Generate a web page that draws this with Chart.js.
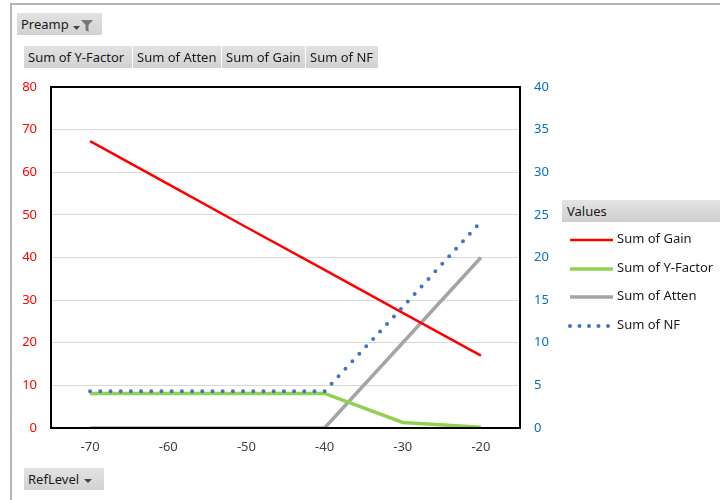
<!DOCTYPE html>
<html>
<head>
<meta charset="utf-8">
<script src="https://cdn.jsdelivr.net/npm/chart.js@4/dist/chart.umd.min.js"></script>
<style>
  html, body { margin: 0; padding: 0; background: #fff; }
  body { width: 720px; height: 500px; position: relative; overflow: hidden;
         font-family: "Noto Sans", "Open Sans", sans-serif; font-size: 13px; color: #1a1a1a; }
  #frame { position: absolute; left: 10px; top: 3px; width: 760px; height: 560px;
           border-left: 2px solid #b4b4b4; border-top: 2px solid #b4b4b4; box-sizing: border-box; }
  #chart { position: absolute; left: 0; top: 0; width: 720px; height: 500px; }
  .btn { position: absolute; height: 22px; line-height: 22px; box-sizing: border-box;
         background: linear-gradient(#e2e2e2, #d2d2d2); padding: 0 4px; white-space: nowrap;
         font-size: 13px; color: #1a1a1a; overflow: hidden; }
  .arrow { display: inline-block; width: 0; height: 0; border-left: 4px solid transparent;
           border-right: 4px solid transparent; border-top: 4px solid #444; vertical-align: middle; margin-left: 5px; }
  #legend { position: absolute; left: 562px; top: 200px; width: 158px; }
  #legend .head { height: 22px; line-height: 22px; padding-left: 5px;
                  background: linear-gradient(#e4e4e4, #cfcfcf); }
  #legend .item { position: absolute; left: 6px; height: 16px; line-height: 16px; white-space: nowrap; }
  #legend .item canvas { vertical-align: middle; margin-right: 3px; }
</style>
</head>
<body>
<div id="frame"></div>
<canvas id="chart" width="720" height="500"></canvas>

<div class="btn" style="left:17px; top:13px; width:85px;">Preamp
  <svg width="22" height="14" style="vertical-align:middle; margin-left:0px" viewBox="0 0 22 14">
    <polygon points="1,7 8,7 4.5,11" fill="#444"/>
    <polygon points="9,1 21,1 16.5,6 16.5,13 13.5,11 13.5,6" fill="#777"/>
  </svg>
</div>
<div class="btn" style="left:24px; top:46px; width:108px;">Sum of Y-Factor</div>
<div class="btn" style="left:133px; top:46px; width:88px;">Sum of Atten</div>
<div class="btn" style="left:222px; top:46px; width:83px;">Sum of Gain</div>
<div class="btn" style="left:306px; top:46px; width:72px;">Sum of NF</div>
<div class="btn" style="left:24px; top:468px; width:80px;">RefLevel<span class="arrow"></span></div>

<div id="legend"><div class="head">Values</div></div>

<script>
// Reference level categories (dBm)
const refLevels = ['-70', '-60', '-50', '-40', '-30', '-20'];

// Series values
const gain    = [67.3, 57.2, 47.1, 37.1, 27.0, 17.0];
const yFactor = [8.1, 8.1, 8.1, 8.1, 1.3, 0.2];
const atten   = [0, 0, 0, 0, 20, 40];
const nf      = [4.3, 4.3, 4.3, 4.3, 14.2, 24.2];

// Axis ranges
const leftTicks  = [0, 10, 20, 30, 40, 50, 60, 70, 80];
const rightTicks = [0, 5, 10, 15, 20, 25, 30, 35, 40];

const FONT = { family: '"Noto Sans", "Open Sans", sans-serif', size: 13 };

const datasets = [
  { label: 'Sum of Gain', data: gain, borderColor: '#ff0000', borderWidth: 2.5, yAxisID: 'yL', order: 1 },
  { label: 'Sum of Y-Factor', data: yFactor, borderColor: '#92d050', borderWidth: 3.5, yAxisID: 'yL', order: 2 },
  { label: 'Sum of Atten', data: atten, borderColor: '#a5a5a5', borderWidth: 3.5, yAxisID: 'yL', order: 3 },
  { label: 'Sum of NF', data: nf, borderColor: '#4472c4', borderWidth: 4, borderDash: [0, 10.2],
    borderCapStyle: 'round', yAxisID: 'yR', order: 0 }
];
datasets.forEach(d => { d.pointRadius = 0; d.pointHoverRadius = 0; d.fill = false; d.tension = 0; });

// Black frame around the plot area
const plotFrame = {
  id: 'plotFrame',
  afterDatasetsDraw(chart) {
    const a = chart.chartArea, ctx = chart.ctx;
    ctx.save();
    ctx.strokeStyle = '#000';
    ctx.lineWidth = 2;
    ctx.strokeRect(a.left, a.top, a.right - a.left, a.bottom - a.top);
    ctx.restore();
  }
};

const chart = new Chart(document.getElementById('chart'), {
  type: 'line',
  data: { labels: refLevels, datasets },
  options: {
    responsive: false,
    animation: false,
    devicePixelRatio: 1,
    layout: { padding: { left: 0, right: 0, top: 87, bottom: 0 } },
    plugins: { legend: { display: false }, tooltip: { enabled: false } },
    scales: {
      x: {
        type: 'category',
        offset: true,
        grid: { display: false, drawTicks: false },
        border: { display: false },
        ticks: { color: '#404040', font: FONT, padding: 11, maxRotation: 0 },
        afterFit(s) { s.height = 72; }
      },
      yL: {
        position: 'left',
        min: 0, max: 80,
        afterBuildTicks(s) { s.ticks = leftTicks.map(v => ({ value: v })); },
        grid: { color: '#d9d9d9', lineWidth: 1, drawTicks: false },
        border: { display: false },
        ticks: { color: '#ff0000', font: FONT, padding: 14 },
        afterFit(s) { s.width = 51; }
      },
      yR: {
        position: 'right',
        min: 0, max: 40,
        afterBuildTicks(s) { s.ticks = rightTicks.map(v => ({ value: v })); },
        grid: { display: false, drawTicks: false },
        border: { display: false },
        ticks: { color: '#0070c0', font: FONT, padding: 14 },
        afterFit(s) { s.width = 200; }
      }
    }
  },
  plugins: [plotFrame]
});

// Legend built from the datasets
const legendEl = document.getElementById('legend');
const legendRows = [38, 67, 95, 124];
datasets.forEach((d, i) => {
  const item = document.createElement('div');
  item.className = 'item';
  item.style.top = (legendRows[i] - 8) + 'px';
  const c = document.createElement('canvas');
  c.width = 46; c.height = 8;
  const g = c.getContext('2d');
  g.strokeStyle = d.borderColor;
  g.lineWidth = d.borderWidth;
  if (d.borderDash) { g.setLineDash([0, 9.5]); g.lineCap = 'round'; }
  g.beginPath(); g.moveTo(2, 4); g.lineTo(45, 4); g.stroke();
  item.appendChild(c);
  item.appendChild(document.createTextNode(d.label));
  legendEl.appendChild(item);
});
</script>
</body>
</html>
